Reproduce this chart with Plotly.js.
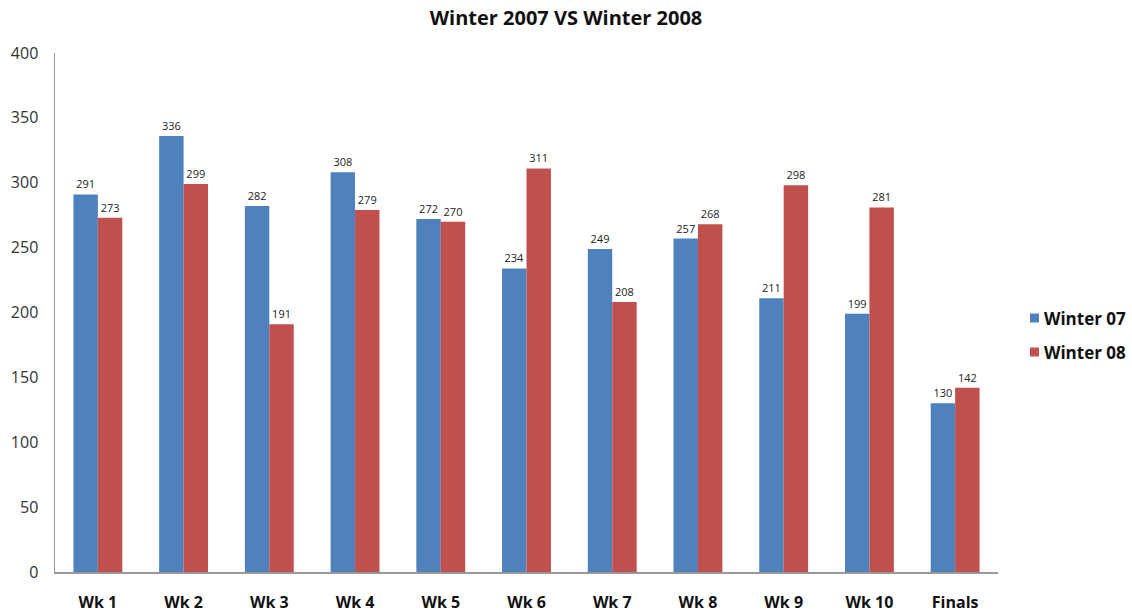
<!DOCTYPE html>
<html><head><meta charset="utf-8">
<script src="https://cdn.plot.ly/plotly-3.0.1.min.js"></script>
<style>html,body{margin:0;padding:0;background:#fff}#c{width:1132px;height:616px}</style>
</head><body><div id="c"></div>
<script>
const categories = ["Wk 1","Wk 2","Wk 3","Wk 4","Wk 5","Wk 6","Wk 7","Wk 8","Wk 9","Wk 10","Finals"];
const winter07 = [291,336,282,308,272,234,249,257,211,199,130];
const winter08 = [273,299,191,279,270,311,208,268,298,281,142];
const seriesNames = ["Winter 07","Winter 08"];
const seriesColors = ["#4F81BD","#C0504D"];
const yTicks = [0,50,100,150,200,250,300,350,400];

const fontFam = "'Open Sans', 'Noto Sans', sans-serif";
const mk = (name, vals, color) => ({
  type: 'bar', name: name, x: categories, y: vals,
  marker: {color: color},
  text: vals.map(String), textposition: 'outside', cliponaxis: false,
  textfont: {family: fontFam, size: 11, color: '#222'},
  hoverinfo: 'x+y+name'
});
const data = [mk(seriesNames[0], winter07, seriesColors[0]), mk(seriesNames[1], winter08, seriesColors[1])];

// manual legend (paper coords) so it does not push the plot area
const W = 1132, H = 616, mL = 55, mR = 134, mT = 53, mB = 44;
const pw = W - mL - mR, ph = H - mT - mB;
const px = v => (v - mL) / pw;
const py = v => 1 - (v - mT) / ph;
const legY = [318, 352];
const shapes = [], annotations = [];
seriesNames.forEach((n, i) => {
  shapes.push({type: 'rect', xref: 'paper', yref: 'paper',
    x0: px(1030), x1: px(1039), y0: py(legY[i] + 4.5), y1: py(legY[i] - 4.5),
    fillcolor: seriesColors[i], line: {width: 0}});
  annotations.push({xref: 'paper', yref: 'paper', x: px(1042), y: py(legY[i]),
    xanchor: 'left', yanchor: 'middle', showarrow: false, text: '<b>' + n + '</b>',
    font: {family: fontFam, size: 17, color: '#111'}});
});

const layout = {
  width: W, height: H,
  margin: {l: mL, r: mR, t: mT, b: mB},
  paper_bgcolor: '#fff', plot_bgcolor: '#fff',
  title: {text: '<b>Winter 2007 VS Winter 2008</b>', x: 0.5, xanchor: 'center', y: 0.97, yanchor: 'middle',
          font: {family: fontFam, size: 20, color: '#111'}},
  barmode: 'group', bargap: 0.43, bargroupgap: 0,
  xaxis: {type: 'category', showline: true, linecolor: '#999', linewidth: 1.5, ticks: '',
          showgrid: false, zeroline: false,
          tickfont: {family: fontFam, size: 16, color: '#111', weight: 'bold'}, ticklabelstandoff: 15},
  yaxis: {range: [0, 400], tickvals: yTicks, ticktext: yTicks.map(String), showline: true, linecolor: '#999',
          linewidth: 1.5, showgrid: false, zeroline: false, ticks: '',
          tickfont: {family: fontFam, size: 16, color: '#333'}, ticklabelstandoff: 12},
  showlegend: false,
  shapes: shapes, annotations: annotations
};
Plotly.newPlot('c', data, layout, {displayModeBar: false, staticPlot: true});
</script></body></html>
